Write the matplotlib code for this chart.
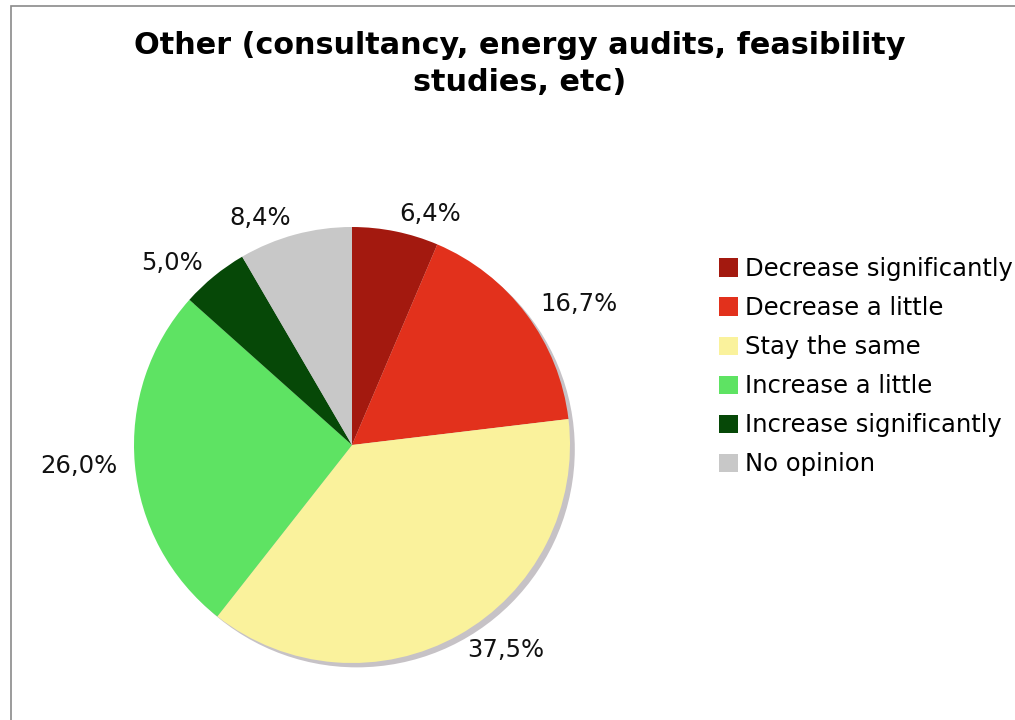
import matplotlib
matplotlib.use("Agg")
import matplotlib.pyplot as plt
from matplotlib.patches import Circle, Rectangle

categories = ["Decrease significantly", "Decrease a little", "Stay the same",
              "Increase a little", "Increase significantly", "No opinion"]
values = [6.4, 16.7, 37.5, 26.0, 5.0, 8.4]
colors = ["#A3190F", "#E2311C", "#FAF29C", "#5EE363", "#064807", "#C8C8C8"]
title = "Other (consultancy, energy audits, feasibility\nstudies, etc)"

plt.rcParams['font.family'] = ['DejaVu Sans']

fig = plt.figure(figsize=(10.15, 7.2), dpi=100)
fig.patch.set_facecolor("white")

# frame
fig.add_artist(Rectangle((11/1015, -0.1), 1.2, (720-6)/720 + 0.1, transform=fig.transFigure,
                         fill=False, edgecolor="#8a8a8a", linewidth=1.2))

cx, cy, r = 352, 445, 218
ax = fig.add_axes([(cx - r)/1015, (720 - cy - r)/720, 2*r/1015, 2*r/720])
ax.axis("off")

shadow = Circle((0.022, -0.02), 1.0, facecolor="#c6c2c6", edgecolor="none", zorder=0)
ax.add_patch(shadow)
shadow.set_clip_on(False)

labels = [f"{v:.1f}%".replace(".", ",") for v in values]
wedges, texts = ax.pie(values, colors=colors, startangle=90, counterclock=False,
                       radius=1.0, labels=labels, labeldistance=1.08,
                       textprops=dict(fontsize=17.5, color="#111111"),
                       wedgeprops=dict(linewidth=0), frame=False)
ax.set_xlim(-1, 1)
ax.set_ylim(-1, 1)
ax.set_aspect("equal")
for w in wedges:
    w.set_zorder(1)
    w.set_clip_on(False)
for t in texts:
    t.set_clip_on(False)

fig.text(520/1015, 1 - 64/720, title, ha="center", va="center", fontsize=21.8,
         fontweight="bold", linespacing=1.38)

fig.legend(wedges, categories, loc="upper left", bbox_to_anchor=(719/1015, 1 - 257/720),
           frameon=False, fontsize=17.5, handlelength=0.78, handleheight=0.78,
           handletextpad=0.3, labelspacing=0.62, borderaxespad=0, borderpad=0)

fig.savefig("out.png", dpi=100, facecolor="white")
